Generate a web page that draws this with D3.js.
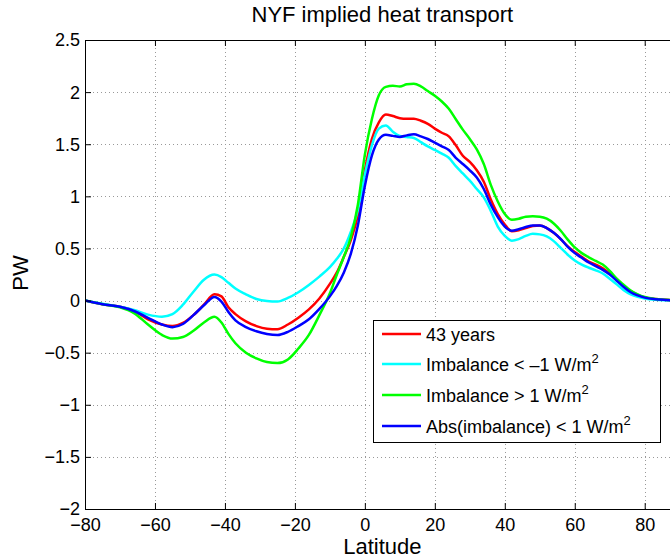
<!DOCTYPE html>
<html>
<head>
<meta charset="utf-8">
<script src="https://cdn.jsdelivr.net/npm/d3@7"></script>
<style>
  body { margin: 0; background: #fff; }
  text { font-family: "Liberation Sans", Arial, Helvetica, sans-serif; fill: #000; }
</style>
</head>
<body>
<svg id="chart" width="670" height="559"></svg>
<script>
const lats = [-80, -75, -70, -66, -62, -58, -55, -52, -49, -46, -43, -41, -39, -37, -34, -31, -28, -25, -22, -19, -16, -13, -10, -8, -6, -4, -2, 0, 2, 4, 6, 8, 10, 12, 14, 16, 18, 20, 22, 24, 26, 28, 30, 32, 34, 36, 38, 40, 42, 44, 46, 48, 50, 52, 54, 56, 58, 60, 62, 64, 66, 68, 70, 72, 74, 76, 78, 80, 83, 86, 90];

const years43 = [0, -0.035, -0.06, -0.1, -0.18, -0.23, -0.245, -0.215, -0.14, -0.04, 0.06, 0.04, -0.065, -0.13, -0.2, -0.245, -0.27, -0.275, -0.23, -0.165, -0.085, 0.02, 0.16, 0.27, 0.42, 0.58, 0.82, 1.25, 1.55, 1.71, 1.785, 1.77, 1.75, 1.745, 1.745, 1.725, 1.695, 1.65, 1.61, 1.575, 1.49, 1.39, 1.33, 1.25, 1.14, 0.97, 0.83, 0.73, 0.665, 0.675, 0.695, 0.715, 0.72, 0.695, 0.65, 0.59, 0.52, 0.465, 0.42, 0.375, 0.345, 0.31, 0.26, 0.2, 0.14, 0.09, 0.055, 0.03, 0.015, 0.007, 0];

const imbNeg = [0, -0.03, -0.06, -0.09, -0.135, -0.155, -0.13, -0.04, 0.085, 0.2, 0.25, 0.225, 0.17, 0.115, 0.06, 0.015, -0.005, -0.01, 0.025, 0.08, 0.15, 0.23, 0.32, 0.4, 0.5, 0.66, 0.87, 1.21, 1.49, 1.65, 1.68, 1.62, 1.58, 1.57, 1.56, 1.52, 1.48, 1.445, 1.41, 1.37, 1.29, 1.22, 1.15, 1.07, 0.99, 0.86, 0.71, 0.62, 0.575, 0.59, 0.62, 0.64, 0.635, 0.615, 0.57, 0.505, 0.44, 0.385, 0.345, 0.315, 0.29, 0.26, 0.21, 0.155, 0.1, 0.06, 0.035, 0.02, 0.008, 0.003, 0];

const imbPos = [0, -0.035, -0.065, -0.12, -0.23, -0.33, -0.365, -0.35, -0.29, -0.21, -0.155, -0.21, -0.32, -0.41, -0.5, -0.555, -0.59, -0.6, -0.565, -0.46, -0.33, -0.14, 0.07, 0.25, 0.42, 0.61, 0.92, 1.4, 1.74, 1.97, 2.05, 2.06, 2.055, 2.075, 2.08, 2.055, 2.01, 1.965, 1.91, 1.84, 1.74, 1.64, 1.55, 1.45, 1.31, 1.11, 0.95, 0.83, 0.775, 0.785, 0.805, 0.81, 0.805, 0.785, 0.74, 0.67, 0.585, 0.51, 0.455, 0.415, 0.38, 0.345, 0.285, 0.21, 0.15, 0.095, 0.06, 0.035, 0.015, 0.007, 0];

const imbAbs = [0, -0.035, -0.06, -0.1, -0.165, -0.23, -0.255, -0.225, -0.14, -0.045, 0.035, -0.01, -0.11, -0.19, -0.255, -0.295, -0.32, -0.33, -0.3, -0.245, -0.18, -0.08, 0.04, 0.14, 0.27, 0.45, 0.72, 1.1, 1.39, 1.545, 1.59, 1.58, 1.57, 1.585, 1.595, 1.575, 1.55, 1.515, 1.48, 1.445, 1.37, 1.31, 1.25, 1.18, 1.07, 0.92, 0.8, 0.71, 0.67, 0.685, 0.705, 0.72, 0.72, 0.695, 0.65, 0.59, 0.515, 0.455, 0.41, 0.365, 0.33, 0.295, 0.25, 0.19, 0.13, 0.08, 0.05, 0.028, 0.013, 0.006, 0];

const seriesNames = ['43 years', 'Imbalance < \u20131 W/m', 'Imbalance > 1 W/m', 'Abs(imbalance) < 1 W/m'];
const seriesSup = [false, true, true, true];
const seriesColors = ['#ff0000', '#00ffff', '#00ff00', '#0000ff'];
const seriesValues = [years43, imbNeg, imbPos, imbAbs];

const xTicks = [-80, -60, -40, -20, 0, 20, 40, 60, 80];
const yTicks = [-2, -1.5, -1, -0.5, 0, 0.5, 1, 1.5, 2, 2.5];

const svg = d3.select('#chart');
const plotL = 85, plotR = 679.7, plotT = 40, plotB = 509;

const x = d3.scaleLinear().domain([-80, 90]).range([plotL, plotR]);
const y = d3.scaleLinear().domain([-2, 2.5]).range([plotB, plotT]);

// grid
const grid = svg.append('g')
    .attr('stroke', '#999')
    .attr('stroke-width', 1)
    .attr('stroke-dasharray', '1,3');
grid.selectAll('.gx')
    .data(xTicks.slice(1))
    .enter()
    .append('line')
    .attr('x1', d => Math.round(x(d)) + 0.5)
    .attr('x2', d => Math.round(x(d)) + 0.5)
    .attr('y1', plotT)
    .attr('y2', plotB);
grid.selectAll('.gy')
    .data(yTicks.slice(1, -1))
    .enter()
    .append('line')
    .attr('x1', plotL)
    .attr('x2', plotR)
    .attr('y1', d => Math.round(y(d)) + 0.5)
    .attr('y2', d => Math.round(y(d)) + 0.5);

svg.append('clipPath')
    .attr('id', 'clip')
    .append('rect')
    .attr('x', plotL)
    .attr('y', plotT)
    .attr('width', plotR - plotL)
    .attr('height', plotB - plotT);

const line = d3.line()
    .x((d, i) => x(lats[i]))
    .y(d => y(d))
    .curve(d3.curveMonotoneX);

svg.append('g')
    .attr('clip-path', 'url(#clip)')
    .selectAll('path')
    .data(seriesValues)
    .enter()
    .append('path')
    .attr('d', line)
    .attr('fill', 'none')
    .attr('stroke', (d, i) => seriesColors[i])
    .attr('stroke-width', 2.5)
    .attr('stroke-linejoin', 'round');

// axes, ticks pointing inward like matlab
const xAxis = svg.append('g')
    .attr('transform', `translate(0,${plotB})`)
    .call(d3.axisBottom(x).tickValues(xTicks).tickSize(-6).tickPadding(9).tickFormat(d3.format('d')));
const yAxis = svg.append('g')
    .attr('transform', `translate(${plotL},0)`)
    .call(d3.axisLeft(y).tickValues(yTicks).tickSize(-6).tickPadding(5).tickFormat(d3.format('')));
svg.append('g')
    .attr('transform', `translate(0,${plotT})`)
    .call(d3.axisTop(x).tickValues(xTicks).tickSize(-6).tickFormat(''));

[xAxis, yAxis].forEach(a => {
  a.selectAll('.tick line').attr('stroke', '#000');
  a.selectAll('text').style('font-size', '18px').attr('fill', '#000');
});
yAxis.selectAll('text').attr('dy', '0.33em');
svg.selectAll('.domain').attr('stroke', '#000');

svg.append('text')
    .attr('x', (plotL + plotR) / 2)
    .attr('y', 22)
    .attr('text-anchor', 'middle')
    .style('font-size', '22px')
    .text('NYF implied heat transport');

svg.append('text')
    .attr('x', (plotL + plotR) / 2)
    .attr('y', 554)
    .attr('text-anchor', 'middle')
    .style('font-size', '22px')
    .text('Latitude');

svg.append('text')
    .attr('transform', 'translate(28,273) rotate(-90)')
    .attr('text-anchor', 'middle')
    .style('font-size', '22px')
    .text('PW');

// legend
const legendRows = [334, 364, 395, 426];
const legendBox = svg.append('g');
legendBox.append('rect')
    .attr('x', 373.5)
    .attr('y', 320.5)
    .attr('width', 287)
    .attr('height', 122)
    .attr('fill', '#fff')
    .attr('stroke', '#000');

const entry = legendBox.selectAll('.entry')
    .data(seriesNames)
    .enter()
    .append('g')
    .attr('transform', (d, i) => `translate(0,${legendRows[i]})`);

entry.append('line')
    .attr('x1', 382)
    .attr('x2', 421)
    .attr('stroke', (d, i) => seriesColors[i])
    .attr('stroke-width', 2.5);

const label = entry.append('text')
    .attr('x', 426)
    .attr('y', 7)
    .style('font-size', '18px');
label.append('tspan').text(d => d);
label.filter((d, i) => seriesSup[i])
    .append('tspan')
    .attr('dy', -8)
    .style('font-size', '13px')
    .text('2');
</script>
</body>
</html>
